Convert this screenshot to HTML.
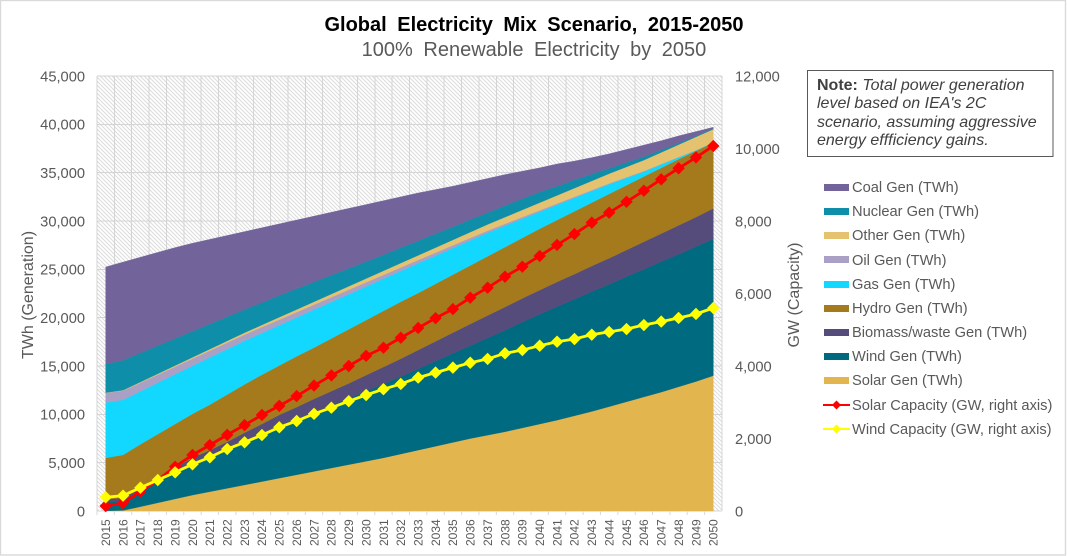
<!DOCTYPE html>
<html lang="en">
<head>
<meta charset="utf-8">
<title>Global Electricity Mix Scenario, 2015-2050</title>
<style>
html,body{margin:0;padding:0;background:#fff;}
body{width:1067px;height:556px;overflow:hidden;}
svg{display:block;font-family:"Liberation Sans",Arial,sans-serif;}
</style>
</head>
<body>
<svg id="chart" width="1067" height="556" viewBox="0 0 1067 556" xmlns="http://www.w3.org/2000/svg">
  <defs>
    <pattern id="hatch" patternUnits="userSpaceOnUse" width="4" height="4">
      <rect width="4" height="4" fill="#ffffff"/>
      <path d="M-1,-1 L5,5 M-1,3 L1,5 M3,-1 L5,1" stroke="#dcdcdc" stroke-width="1" fill="none"/>
    </pattern>
  </defs>
  <rect x="0.5" y="0.5" width="1065" height="554.5" fill="#fff" stroke="#d9d9d9" stroke-width="1.4"/>
  <text x="534" y="31" text-anchor="middle" font-size="20" font-weight="bold" fill="#000" word-spacing="5">Global Electricity Mix Scenario, 2015-2050</text>
  <text x="534" y="56" text-anchor="middle" font-size="20" fill="#595959" word-spacing="5">100% Renewable Electricity by 2050</text>

  <rect x="97" y="76" width="625" height="435" fill="url(#hatch)"/>
  <g id="gridlines"></g>
  <g id="areas"></g>
  <g id="lines"></g>
  <g id="axes"></g>

  <text transform="translate(33,295) rotate(-90)" text-anchor="middle" font-size="16" fill="#595959">TWh (Generation)</text>
  <text transform="translate(799,295) rotate(-90)" text-anchor="middle" font-size="16" fill="#595959">GW (Capacity)</text>

  <g>
    <rect x="807.5" y="70.5" width="245.5" height="86" fill="#fff" stroke="#595959" stroke-width="1"/>
    <text x="817" y="90" font-size="16" fill="#404040"><tspan font-weight="bold">Note:</tspan> <tspan font-style="italic">Total power generation</tspan></text>
    <text x="817" y="108" font-size="16" font-style="italic" fill="#404040">level based on IEA's 2C</text>
    <text x="817" y="127" font-size="16" font-style="italic" fill="#404040">scenario, assuming aggressive</text>
    <text x="817" y="145" font-size="16" font-style="italic" fill="#404040">energy effficiency gains.</text>
  </g>

  <g font-size="14.67" fill="#595959">
    <g><rect x="824" y="184" width="25" height="7" fill="#72649b"/><text x="852" y="192">Coal Gen (TWh)</text></g>
    <g><rect x="824" y="208" width="25" height="7" fill="#0e8ea8"/><text x="852" y="216">Nuclear Gen (TWh)</text></g>
    <g><rect x="824" y="232" width="25" height="7" fill="#e5c270"/><text x="852" y="240">Other Gen (TWh)</text></g>
    <g><rect x="824" y="256" width="25" height="7" fill="#aa9fc5"/><text x="852" y="265">Oil Gen (TWh)</text></g>
    <g><rect x="824" y="281" width="25" height="7" fill="#12d8ff"/><text x="852" y="289">Gas Gen (TWh)</text></g>
    <g><rect x="824" y="305" width="25" height="7" fill="#a47a1c"/><text x="852" y="313">Hydro Gen (TWh)</text></g>
    <g><rect x="824" y="329" width="25" height="7" fill="#564c7b"/><text x="852" y="337">Biomass/waste Gen (TWh)</text></g>
    <g><rect x="824" y="353" width="25" height="7" fill="#006a80"/><text x="852" y="361">Wind Gen (TWh)</text></g>
    <g><rect x="824" y="377" width="25" height="7" fill="#e2b54f"/><text x="852" y="385">Solar Gen (TWh)</text></g>
    <g><line x1="823" x2="850" y1="405" y2="405" stroke="#ff0000" stroke-width="2"/><path d="M836.5,400.5 L841,405 L836.5,409.5 L832,405 Z" fill="#ff0000"/><text x="852" y="410">Solar Capacity (GW, right axis)</text></g>
    <g><line x1="823" x2="850" y1="429" y2="429" stroke="#ffff00" stroke-width="2"/><path d="M836.5,424.5 L841,429 L836.5,433.5 L832,429 Z" fill="#ffff00"/><text x="852" y="434">Wind Capacity (GW, right axis)</text></g>
  </g>
</svg>
<script>
const years = [2015,2016,2017,2018,2019,2020,2021,2022,2023,2024,2025,2026,2027,2028,2029,2030,2031,2032,2033,2034,2035,2036,2037,2038,2039,2040,2041,2042,2043,2044,2045,2046,2047,2048,2049,2050];
const solarGen = [30,60,450,850,1250,1650,2000,2350,2700,3050,3400,3750,4100,4450,4800,5150,5500,5900,6300,6700,7100,7500,7850,8200,8600,9000,9400,9850,10300,10800,11300,11800,12300,12850,13400,14000];
const windGen = [870,940,1550,2150,2800,3350,3750,4150,4550,4950,5350,5650,6050,6450,6850,7250,7650,8000,8400,8800,9200,9600,10050,10500,10950,11350,11750,12050,12400,12650,12950,13200,13500,13700,13950,14150];
const biomassGen = [300,350,350,400,450,500,550,650,850,1000,1200,1350,1450,1500,1550,1650,1750,1850,1950,2050,2150,2250,2330,2400,2450,2500,2550,2600,2650,2700,2750,2850,2900,3000,3050,3150];
const hydroGen = [4300,4450,4550,4550,4500,4550,4700,4900,5000,5100,5100,5250,5300,5450,5600,5700,5800,5900,5900,5950,6000,6050,6120,6200,6250,6350,6400,6500,6550,6650,6700,6750,6800,6850,6850,6800];
const gasGen = [5720,5700,5490,5320,5150,4970,4890,4700,4510,4320,4170,4020,3930,3780,3630,3480,3330,3180,3080,2920,2760,2600,2440,2220,1990,1760,1580,1400,1210,1020,770,520,360,190,60,40];
const oilGen = [1000,950,880,830,780,740,700,670,640,610,580,550,520,490,460,430,400,370,340,310,280,250,220,190,170,150,130,110,90,70,60,50,40,30,20,10];
const otherGen = [30,50,80,100,120,140,160,180,200,220,250,280,300,330,360,390,420,450,480,520,560,600,640,690,740,790,840,890,950,1010,1070,1130,1200,1280,1370,1350];
const nuclearGen = [2950,3100,3000,2900,2800,2700,2600,2500,2400,2300,2250,2150,2050,1950,1850,1750,1650,1600,1500,1450,1350,1300,1200,1200,1150,1100,950,850,700,550,450,350,250,150,100,100];
const coalGen = [10040,10150,9900,9650,9400,9100,8750,8400,8050,7750,7400,7100,6800,6500,6200,5900,5600,5250,4950,4550,4200,3850,3550,3200,2850,2500,2300,1950,1700,1500,1350,1200,950,750,450,100];
const solarCapacity = [138,220,532,855,1220,1545,1820,2100,2370,2650,2900,3170,3460,3740,4000,4280,4505,4780,5050,5320,5570,5885,6160,6465,6740,7035,7340,7640,7955,8230,8530,8835,9150,9455,9755,10070];
const windCapacity = [378,423,643,855,1068,1288,1482,1710,1895,2095,2310,2483,2680,2850,3030,3200,3360,3505,3680,3818,3955,4090,4195,4350,4440,4560,4670,4745,4865,4940,5020,5130,5225,5325,5435,5600];
const leftTicks = [0,5000,10000,15000,20000,25000,30000,35000,40000,45000];
const rightTicks = [0,2000,4000,6000,8000,10000,12000];

const NS = 'http://www.w3.org/2000/svg';
const plotLeft = 97, plotRight = 722, plotTop = 76, plotBottom = 511;
const leftMax = 45000, rightMax = 12000;
const band = (plotRight - plotLeft) / years.length;
function xPos(i){ return plotLeft + (i + 0.5) * band; }
function xEdge(i){ return plotLeft + i * band; }
function yLeft(v){ return plotBottom - v / leftMax * (plotBottom - plotTop); }
function yRight(v){ return plotBottom - v / rightMax * (plotBottom - plotTop); }
function make(tag){ return document.createElementNS(NS, tag); }

const grid = document.getElementById('gridlines');
for (let i = 0; i <= years.length; i++) {
  const v = make('line');
  
  
  v.setAttribute('x1', xEdge(i)); v.setAttribute('x2', xEdge(i));
  v.setAttribute('y1', plotTop); v.setAttribute('y2', plotBottom);
  v.setAttribute('stroke', '#d4d4d4'); v.setAttribute('stroke-width', '1');
  v.setAttribute('shape-rendering', 'crispEdges');
  grid.appendChild(v);
}
leftTicks.forEach(function(t){
  const h = make('line');
  
  
  h.setAttribute('x1', plotLeft); h.setAttribute('x2', plotRight);
  h.setAttribute('y1', yLeft(t)); h.setAttribute('y2', yLeft(t));
  h.setAttribute('stroke', '#d4d4d4'); h.setAttribute('stroke-width', '1');
  h.setAttribute('shape-rendering', 'crispEdges');
  grid.appendChild(h);
});

const stackSeries = [
  {key:'solar', values:solarGen, color:'#e2b54f'},
  {key:'wind', values:windGen, color:'#006a80'},
  {key:'biomass', values:biomassGen, color:'#564c7b'},
  {key:'hydro', values:hydroGen, color:'#a47a1c'},
  {key:'gas', values:gasGen, color:'#12d8ff'},
  {key:'oil', values:oilGen, color:'#aa9fc5'},
  {key:'other', values:otherGen, color:'#e5c270'},
  {key:'nuclear', values:nuclearGen, color:'#0e8ea8'},
  {key:'coal', values:coalGen, color:'#72649b'}
];
const areas = document.getElementById('areas');
let baseline = years.map(function(){ return 0; });
stackSeries.forEach(function(s){
  const tops = baseline.map(function(b, i){ return b + s.values[i]; });
  let d = '';
  tops.forEach(function(t, i){ d += (i ? 'L' : 'M') + xPos(i).toFixed(2) + ',' + yLeft(t).toFixed(2) + ' '; });
  for (let i = years.length - 1; i >= 0; i--) { d += 'L' + xPos(i).toFixed(2) + ',' + yLeft(baseline[i]).toFixed(2) + ' '; }
  const p = make('path');
  
  
  p.setAttribute('d', d + 'Z');
  p.setAttribute('fill', s.color);
  p.setAttribute('stroke', s.color);
  p.setAttribute('stroke-width', '0.4');
  areas.appendChild(p);
  baseline = tops;
});

const lineSeries = [
  {key:'wind-capacity', values:windCapacity, color:'#ffff00'},
  {key:'solar-capacity', values:solarCapacity, color:'#ff0000'}
];
const lineLayer = document.getElementById('lines');
function drawLine(s){
  const pts = s.values.map(function(v, i){ return xPos(i).toFixed(2) + ',' + yRight(v).toFixed(2); }).join(' ');
  const pl = make('polyline');
  
  
  pl.setAttribute('points', pts);
  pl.setAttribute('fill', 'none');
  pl.setAttribute('stroke', s.color);
  pl.setAttribute('stroke-width', '2.8');
  lineLayer.appendChild(pl);
  s.values.forEach(function(v, i){
    const cx = xPos(i), cy = yRight(v), r = 6.2;
    const m = make('path');
    
    
    m.setAttribute('d', 'M' + cx + ',' + (cy - r) + ' L' + (cx + r) + ',' + cy + ' L' + cx + ',' + (cy + r) + ' L' + (cx - r) + ',' + cy + ' Z');
    m.setAttribute('fill', s.color);
    lineLayer.appendChild(m);
  });
}
drawLine(lineSeries[1]);
drawLine(lineSeries[0]);

const axes = document.getElementById('axes');
function fmt(n){ return n.toLocaleString('en-US'); }
leftTicks.forEach(function(t){
  const el = make('text');
  
  
  el.setAttribute('x', 85);
  el.setAttribute('y', yLeft(t) + 5.3);
  el.setAttribute('text-anchor', 'end');
  el.setAttribute('font-size', '14.67');
  el.setAttribute('fill', '#595959');
  el.textContent = fmt(t);
  axes.appendChild(el);
});
rightTicks.forEach(function(t){
  const el = make('text');
  
  
  el.setAttribute('x', 735);
  el.setAttribute('y', yRight(t) + 5.3);
  el.setAttribute('font-size', '14.67');
  el.setAttribute('fill', '#595959');
  el.textContent = fmt(t);
  axes.appendChild(el);
});
years.forEach(function(y, i){
  const tick = make('line');
  
  
  tick.setAttribute('x1', xEdge(i)); tick.setAttribute('x2', xEdge(i));
  tick.setAttribute('y1', plotBottom); tick.setAttribute('y2', plotBottom + 4);
  tick.setAttribute('stroke', '#d9d9d9');
  axes.appendChild(tick);
  const el = make('text');
  
  
  el.setAttribute('transform', 'translate(' + (xPos(i) + 4.3).toFixed(2) + ',546) rotate(-90)');
  el.setAttribute('font-size', '12');
  el.setAttribute('fill', '#595959');
  el.textContent = y;
  axes.appendChild(el);
});
</script>
</body>
</html>
